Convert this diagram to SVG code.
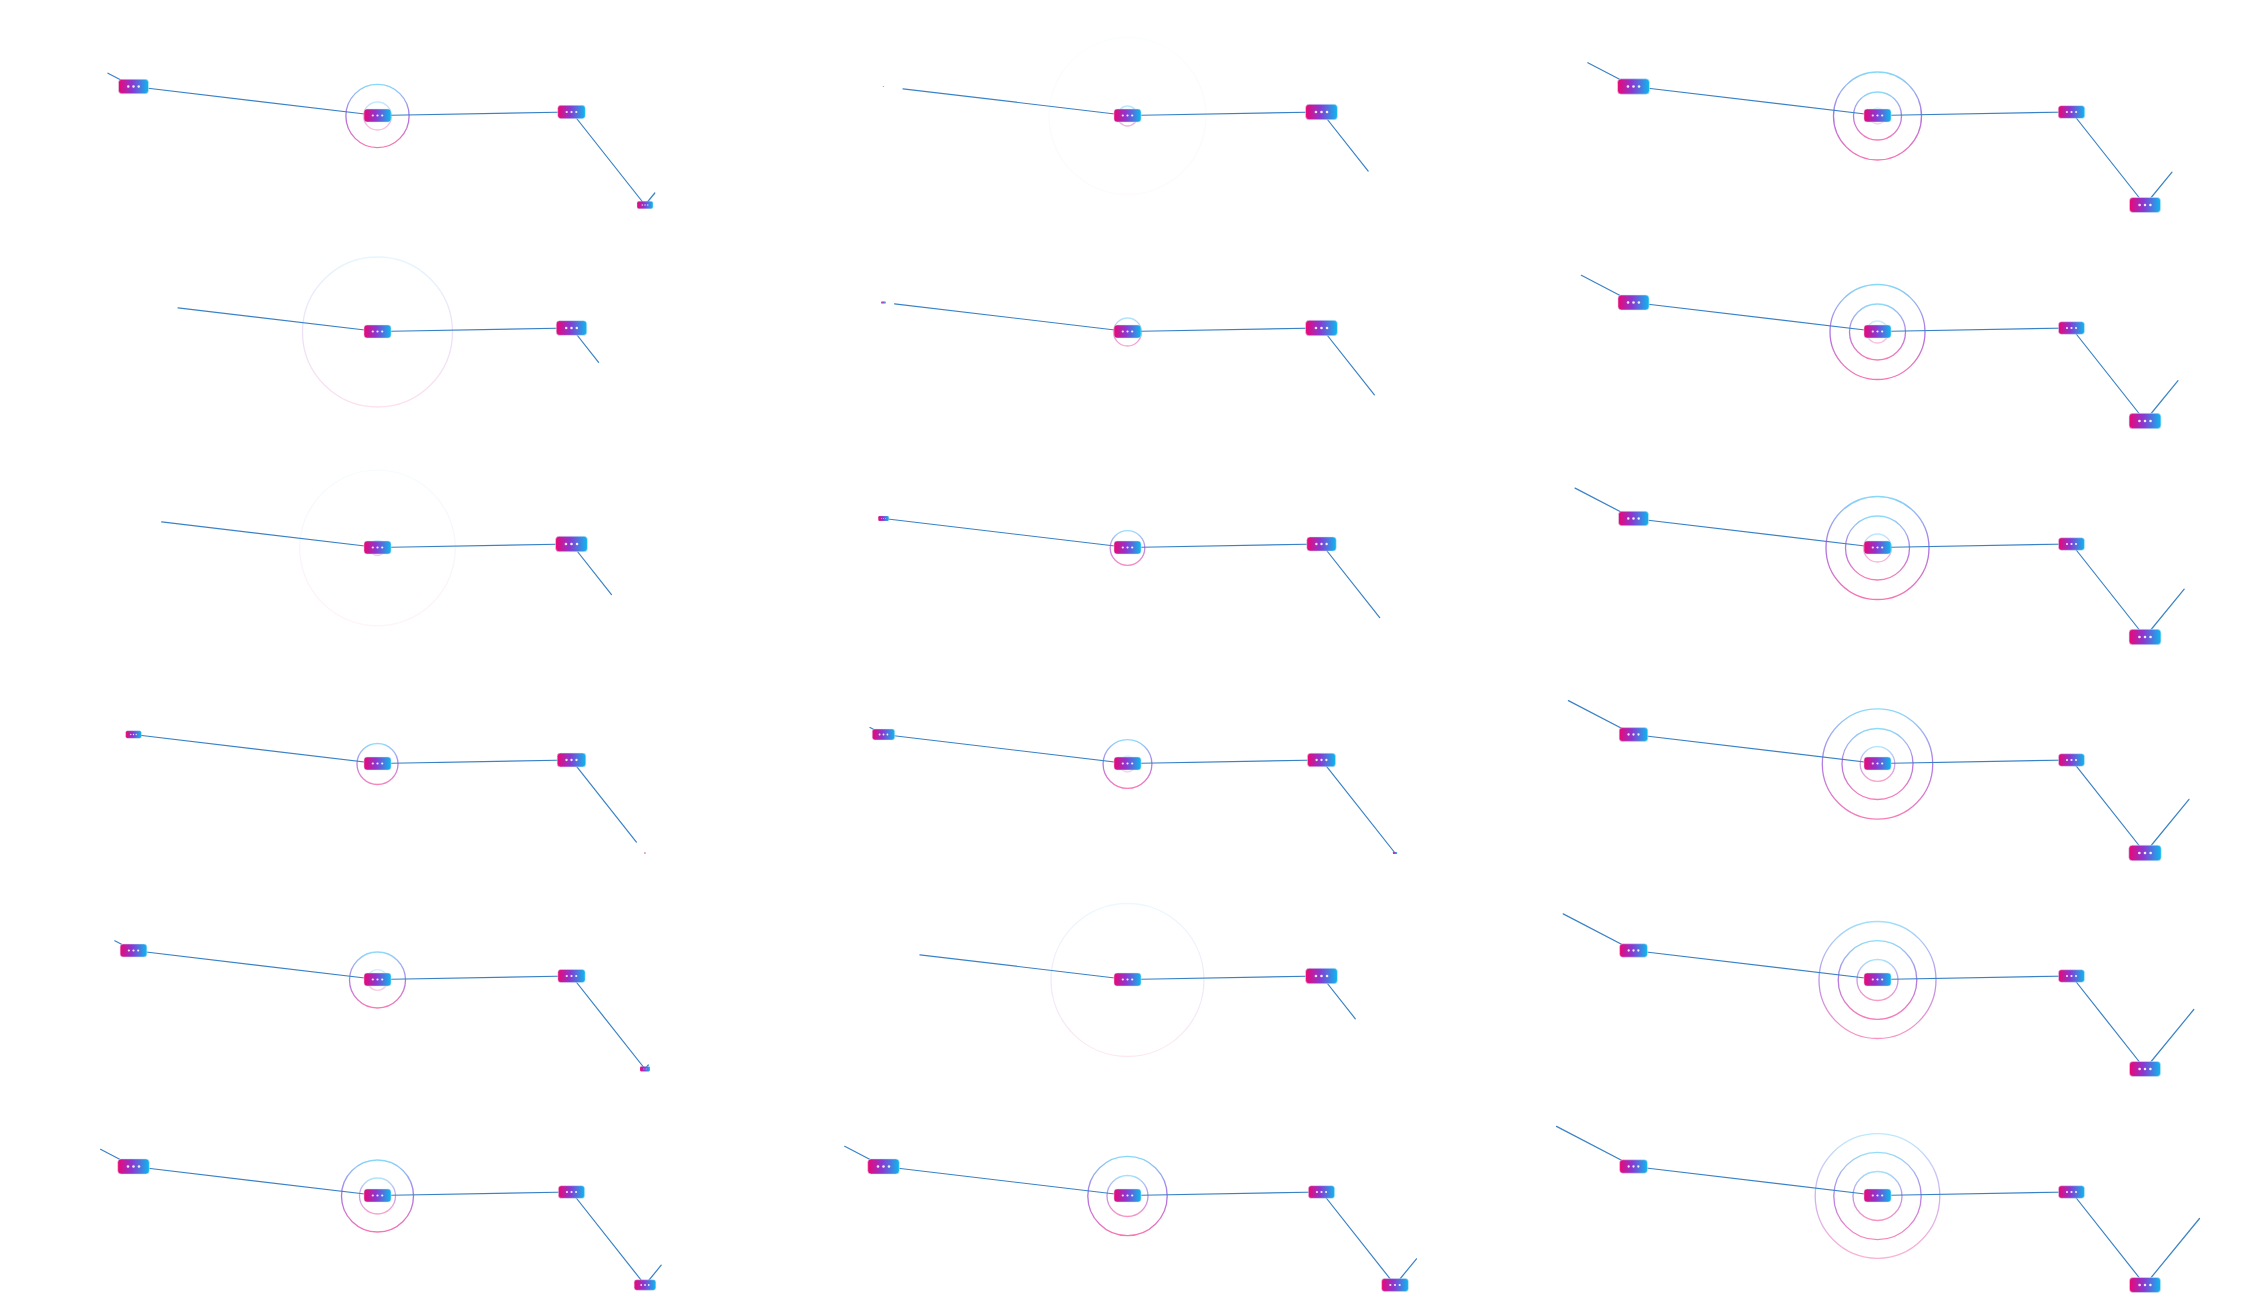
<svg xmlns="http://www.w3.org/2000/svg" xmlns:xlink="http://www.w3.org/1999/xlink" width="2250" height="1296" viewBox="0 0 2250 1296">
<style>
.bg{fill:#ffffff}
.link{stroke:#3a82c6;stroke-width:1.2;fill:none;stroke-linecap:round}
.ring{fill:none;stroke:url(#ringGrad);stroke-width:1.3}
.nrect{fill:url(#nodeGrad);stroke:#cdeafb;stroke-width:0.8;stroke-opacity:0.6}
.dot{fill:#ffffff;fill-opacity:0.9}
</style>
<defs>
<linearGradient id="nodeGrad" x1="0" y1="0" x2="1" y2="0">
<stop offset="0" stop-color="#ee0574"/>
<stop offset="0.45" stop-color="#8a38d0"/>
<stop offset="1" stop-color="#0ab9ee"/>
</linearGradient>
<linearGradient id="ringGrad" x1="0" y1="0" x2="0" y2="1">
<stop offset="0" stop-color="#7ad4f8"/>
<stop offset="0.5" stop-color="#a463e0"/>
<stop offset="1" stop-color="#f766aa"/>
</linearGradient>
<g id="nodeShape">
<rect class="nrect" x="-13.5" y="-6.5" width="27" height="13" rx="3"/>
<circle class="dot" cx="-4.7" cy="0" r="1.1"/>
<circle class="dot" cx="0" cy="0" r="1.1"/>
<circle class="dot" cx="4.7" cy="0" r="1.1"/>
</g>
</defs>
<rect class="bg" x="0" y="0" width="2250" height="1296"/>

<!-- Column 0 -->
<g id="frame-r0c0" transform="translate(0,0)">
<g id="rings-r0c0"><circle class="ring" cx="377.5" cy="116" r="31.6" opacity="0.9"/><circle class="ring" cx="377.5" cy="116" r="14" opacity="0.45"/></g>
<g id="connectors-r0c0">
<line class="link" x1="133.5" y1="86.5" x2="107.9" y2="73.2"/>
<line class="link" x1="133.5" y1="86.5" x2="377.5" y2="115.5"/>
<line class="link" x1="377.5" y1="115.5" x2="571.5" y2="112"/>
<line class="link" x1="571.5" y1="112" x2="645" y2="205"/>
<line class="link" x1="645" y1="205" x2="654.8" y2="193"/>
</g>
<g id="r0c0-nodeA" transform="translate(133.5,86.5) scale(1.11)"><use xlink:href="#nodeShape"/></g>
<g id="r0c0-nodeC" transform="translate(377.5,115.5)"><use xlink:href="#nodeShape"/></g>
<g id="r0c0-nodeB" transform="translate(571.5,112) scale(1.02)"><use xlink:href="#nodeShape"/></g>
<g id="r0c0-nodeD" transform="translate(645,205) scale(0.59)"><use xlink:href="#nodeShape"/></g>
</g>

<g id="frame-r1c0" transform="translate(0,216)">
<g id="rings-r1c0"><circle class="ring" cx="377.5" cy="116" r="75" opacity="0.2"/></g>
<g id="connectors-r1c0">
<line class="link" x1="178" y1="91.8" x2="377.5" y2="115.5"/>
<line class="link" x1="377.5" y1="115.5" x2="571.5" y2="112"/>
<line class="link" x1="571.5" y1="112" x2="598.6" y2="146.3"/>
</g>
<g id="r1c0-nodeC" transform="translate(377.5,115.5)"><use xlink:href="#nodeShape"/></g>
<g id="r1c0-nodeB" transform="translate(571.5,112) scale(1.13)"><use xlink:href="#nodeShape"/></g>
</g>

<g id="frame-r2c0" transform="translate(0,432)">
<g id="rings-r2c0"><circle class="ring" cx="377.5" cy="116" r="77.8" opacity="0.07"/><circle class="ring" cx="377.5" cy="116" r="7.5" opacity="0.4"/></g>
<g id="connectors-r2c0">
<line class="link" x1="161.7" y1="89.9" x2="377.5" y2="115.5"/>
<line class="link" x1="377.5" y1="115.5" x2="571.5" y2="112"/>
<line class="link" x1="571.5" y1="112" x2="611.5" y2="162.6"/>
</g>
<g id="r2c0-nodeC" transform="translate(377.5,115.5)"><use xlink:href="#nodeShape"/></g>
<g id="r2c0-nodeB" transform="translate(571.5,112) scale(1.18)"><use xlink:href="#nodeShape"/></g>
</g>

<g id="frame-r3c0" transform="translate(0,648)">
<g id="rings-r3c0"><circle class="ring" cx="377.5" cy="116" r="20.5" opacity="0.8"/></g>
<g id="connectors-r3c0">
<line class="link" x1="133.5" y1="86.5" x2="377.5" y2="115.5"/>
<line class="link" x1="377.5" y1="115.5" x2="571.5" y2="112"/>
<line class="link" x1="571.5" y1="112" x2="636.4" y2="194.1"/>
</g>
<g id="r3c0-nodeA" transform="translate(133.5,86.5) scale(0.58)"><use xlink:href="#nodeShape"/></g>
<g id="r3c0-nodeC" transform="translate(377.5,115.5)"><use xlink:href="#nodeShape"/></g>
<g id="r3c0-nodeB" transform="translate(571.5,112) scale(1.06)"><use xlink:href="#nodeShape"/></g>
<g id="r3c0-nodeD" transform="translate(645,205) scale(0.06)"><use xlink:href="#nodeShape"/></g>
</g>

<g id="frame-r4c0" transform="translate(0,864)">
<g id="rings-r4c0"><circle class="ring" cx="377.5" cy="116" r="28" opacity="0.85"/><circle class="ring" cx="377.5" cy="116" r="10.3" opacity="0.35"/></g>
<g id="connectors-r4c0">
<line class="link" x1="133.5" y1="86.5" x2="114.8" y2="76.8"/>
<line class="link" x1="133.5" y1="86.5" x2="377.5" y2="115.5"/>
<line class="link" x1="377.5" y1="115.5" x2="571.5" y2="112"/>
<line class="link" x1="571.5" y1="112" x2="645" y2="205"/>
<line class="link" x1="645" y1="205" x2="648.3" y2="201"/>
</g>
<g id="r4c0-nodeA" transform="translate(133.5,86.5) scale(0.99)"><use xlink:href="#nodeShape"/></g>
<g id="r4c0-nodeC" transform="translate(377.5,115.5)"><use xlink:href="#nodeShape"/></g>
<g id="r4c0-nodeB" transform="translate(571.5,112) scale(1.01)"><use xlink:href="#nodeShape"/></g>
<g id="r4c0-nodeD" transform="translate(645,205) scale(0.37)"><use xlink:href="#nodeShape"/></g>
</g>

<g id="frame-r5c0" transform="translate(0,1080)">
<g id="rings-r5c0"><circle class="ring" cx="377.5" cy="116" r="36" opacity="0.9"/><circle class="ring" cx="377.5" cy="116" r="18" opacity="0.6"/></g>
<g id="connectors-r5c0">
<line class="link" x1="133.5" y1="86.5" x2="100.5" y2="69.3"/>
<line class="link" x1="133.5" y1="86.5" x2="377.5" y2="115.5"/>
<line class="link" x1="377.5" y1="115.5" x2="571.5" y2="112"/>
<line class="link" x1="571.5" y1="112" x2="645" y2="205"/>
<line class="link" x1="645" y1="205" x2="661.2" y2="185.2"/>
</g>
<g id="r5c0-nodeA" transform="translate(133.5,86.5) scale(1.17)"><use xlink:href="#nodeShape"/></g>
<g id="r5c0-nodeC" transform="translate(377.5,115.5)"><use xlink:href="#nodeShape"/></g>
<g id="r5c0-nodeB" transform="translate(571.5,112) scale(0.97)"><use xlink:href="#nodeShape"/></g>
<g id="r5c0-nodeD" transform="translate(645,205) scale(0.8)"><use xlink:href="#nodeShape"/></g>
</g>

<!-- Column 1 -->
<g id="frame-r0c1" transform="translate(750,0)">
<g id="rings-r0c1"><circle class="ring" cx="377.5" cy="116" r="78.5" opacity="0.035"/><circle class="ring" cx="377.5" cy="116" r="10" opacity="0.5"/></g>
<g id="connectors-r0c1">
<line class="link" x1="153" y1="88.8" x2="377.5" y2="115.5"/>
<line class="link" x1="377.5" y1="115.5" x2="571.5" y2="112"/>
<line class="link" x1="571.5" y1="112" x2="618.2" y2="171.1"/>
</g>
<g id="r0c1-nodeA" transform="translate(133.5,86.5) scale(0.05)"><use xlink:href="#nodeShape"/></g>
<g id="r0c1-nodeC" transform="translate(377.5,115.5)"><use xlink:href="#nodeShape"/></g>
<g id="r0c1-nodeB" transform="translate(571.5,112) scale(1.18)"><use xlink:href="#nodeShape"/></g>
</g>

<g id="frame-r1c1" transform="translate(750,216)">
<g id="rings-r1c1"><circle class="ring" cx="377.5" cy="116" r="14" opacity="0.6"/></g>
<g id="connectors-r1c1">
<line class="link" x1="144.5" y1="87.8" x2="377.5" y2="115.5"/>
<line class="link" x1="377.5" y1="115.5" x2="571.5" y2="112"/>
<line class="link" x1="571.5" y1="112" x2="624.4" y2="178.9"/>
</g>
<g id="r1c1-nodeA" transform="translate(133.5,86.5) scale(0.17)"><use xlink:href="#nodeShape"/></g>
<g id="r1c1-nodeC" transform="translate(377.5,115.5)"><use xlink:href="#nodeShape"/></g>
<g id="r1c1-nodeB" transform="translate(571.5,112) scale(1.18)"><use xlink:href="#nodeShape"/></g>
</g>

<g id="frame-r2c1" transform="translate(750,432)">
<g id="rings-r2c1"><circle class="ring" cx="377.5" cy="116" r="17.3" opacity="0.75"/></g>
<g id="connectors-r2c1">
<line class="link" x1="133.5" y1="86.5" x2="377.5" y2="115.5"/>
<line class="link" x1="377.5" y1="115.5" x2="571.5" y2="112"/>
<line class="link" x1="571.5" y1="112" x2="629.7" y2="185.6"/>
</g>
<g id="r2c1-nodeA" transform="translate(133.5,86.5) scale(0.39)"><use xlink:href="#nodeShape"/></g>
<g id="r2c1-nodeC" transform="translate(377.5,115.5)"><use xlink:href="#nodeShape"/></g>
<g id="r2c1-nodeB" transform="translate(571.5,112) scale(1.09)"><use xlink:href="#nodeShape"/></g>
</g>

<g id="frame-r3c1" transform="translate(750,648)">
<g id="rings-r3c1"><circle class="ring" cx="377.5" cy="116" r="24.4" opacity="0.85"/><circle class="ring" cx="377.5" cy="116" r="8" opacity="0.3"/></g>
<g id="connectors-r3c1">
<line class="link" x1="133.5" y1="86.5" x2="120" y2="79.5"/>
<line class="link" x1="133.5" y1="86.5" x2="377.5" y2="115.5"/>
<line class="link" x1="377.5" y1="115.5" x2="571.5" y2="112"/>
<line class="link" x1="571.5" y1="112" x2="645" y2="205"/>
</g>
<g id="r3c1-nodeA" transform="translate(133.5,86.5) scale(0.83)"><use xlink:href="#nodeShape"/></g>
<g id="r3c1-nodeC" transform="translate(377.5,115.5)"><use xlink:href="#nodeShape"/></g>
<g id="r3c1-nodeB" transform="translate(571.5,112) scale(1.04)"><use xlink:href="#nodeShape"/></g>
<g id="r3c1-nodeD" transform="translate(645,205) scale(0.15)"><use xlink:href="#nodeShape"/></g>
</g>

<g id="frame-r4c1" transform="translate(750,864)">
<g id="rings-r4c1"><circle class="ring" cx="377.5" cy="116" r="76.5" opacity="0.15"/></g>
<g id="connectors-r4c1">
<line class="link" x1="169.9" y1="90.8" x2="377.5" y2="115.5"/>
<line class="link" x1="377.5" y1="115.5" x2="571.5" y2="112"/>
<line class="link" x1="571.5" y1="112" x2="605.3" y2="154.8"/>
</g>
<g id="r4c1-nodeC" transform="translate(377.5,115.5)"><use xlink:href="#nodeShape"/></g>
<g id="r4c1-nodeB" transform="translate(571.5,112) scale(1.18)"><use xlink:href="#nodeShape"/></g>
</g>

<g id="frame-r5c1" transform="translate(750,1080)">
<g id="rings-r5c1"><circle class="ring" cx="377.5" cy="116" r="39.7" opacity="0.9"/><circle class="ring" cx="377.5" cy="116" r="20.5" opacity="0.7"/></g>
<g id="connectors-r5c1">
<line class="link" x1="133.5" y1="86.5" x2="94.7" y2="66.3"/>
<line class="link" x1="133.5" y1="86.5" x2="377.5" y2="115.5"/>
<line class="link" x1="377.5" y1="115.5" x2="571.5" y2="112"/>
<line class="link" x1="571.5" y1="112" x2="645" y2="205"/>
<line class="link" x1="645" y1="205" x2="666.5" y2="178.8"/>
</g>
<g id="r5c1-nodeA" transform="translate(133.5,86.5) scale(1.17)"><use xlink:href="#nodeShape"/></g>
<g id="r5c1-nodeC" transform="translate(377.5,115.5)"><use xlink:href="#nodeShape"/></g>
<g id="r5c1-nodeB" transform="translate(571.5,112) scale(0.97)"><use xlink:href="#nodeShape"/></g>
<g id="r5c1-nodeD" transform="translate(645,205) scale(0.99)"><use xlink:href="#nodeShape"/></g>
</g>

<!-- Column 2 -->
<g id="frame-r0c2" transform="translate(1500,0)">
<g id="rings-r0c2"><circle class="ring" cx="377.5" cy="116" r="44" opacity="0.9"/><circle class="ring" cx="377.5" cy="116" r="24" opacity="0.85"/><circle class="ring" cx="377.5" cy="116" r="8" opacity="0.3"/></g>
<g id="connectors-r0c2">
<line class="link" x1="133.5" y1="86.5" x2="87.8" y2="62.7"/>
<line class="link" x1="133.5" y1="86.5" x2="377.5" y2="115.5"/>
<line class="link" x1="377.5" y1="115.5" x2="571.5" y2="112"/>
<line class="link" x1="571.5" y1="112" x2="645" y2="205"/>
<line class="link" x1="645" y1="205" x2="672" y2="172.1"/>
</g>
<g id="r0c2-nodeA" transform="translate(133.5,86.5) scale(1.18)"><use xlink:href="#nodeShape"/></g>
<g id="r0c2-nodeC" transform="translate(377.5,115.5)"><use xlink:href="#nodeShape"/></g>
<g id="r0c2-nodeB" transform="translate(571.5,112) scale(0.98)"><use xlink:href="#nodeShape"/></g>
<g id="r0c2-nodeD" transform="translate(645,205) scale(1.15)"><use xlink:href="#nodeShape"/></g>
</g>

<g id="frame-r1c2" transform="translate(1500,216)">
<g id="rings-r1c2"><circle class="ring" cx="377.5" cy="116" r="47.5" opacity="0.9"/><circle class="ring" cx="377.5" cy="116" r="28" opacity="0.85"/><circle class="ring" cx="377.5" cy="116" r="11" opacity="0.4"/></g>
<g id="connectors-r1c2">
<line class="link" x1="133.5" y1="86.5" x2="81.3" y2="59.3"/>
<line class="link" x1="133.5" y1="86.5" x2="377.5" y2="115.5"/>
<line class="link" x1="377.5" y1="115.5" x2="571.5" y2="112"/>
<line class="link" x1="571.5" y1="112" x2="645" y2="205"/>
<line class="link" x1="645" y1="205" x2="678" y2="164.7"/>
</g>
<g id="r1c2-nodeA" transform="translate(133.5,86.5) scale(1.15)"><use xlink:href="#nodeShape"/></g>
<g id="r1c2-nodeC" transform="translate(377.5,115.5)"><use xlink:href="#nodeShape"/></g>
<g id="r1c2-nodeB" transform="translate(571.5,112) scale(0.96)"><use xlink:href="#nodeShape"/></g>
<g id="r1c2-nodeD" transform="translate(645,205) scale(1.18)"><use xlink:href="#nodeShape"/></g>
</g>

<g id="frame-r2c2" transform="translate(1500,432)">
<g id="rings-r2c2"><circle class="ring" cx="377.5" cy="116" r="51.5" opacity="0.9"/><circle class="ring" cx="377.5" cy="116" r="32" opacity="0.85"/><circle class="ring" cx="377.5" cy="116" r="14" opacity="0.5"/></g>
<g id="connectors-r2c2">
<line class="link" x1="133.5" y1="86.5" x2="75.1" y2="56.1"/>
<line class="link" x1="133.5" y1="86.5" x2="377.5" y2="115.5"/>
<line class="link" x1="377.5" y1="115.5" x2="571.5" y2="112"/>
<line class="link" x1="571.5" y1="112" x2="645" y2="205"/>
<line class="link" x1="645" y1="205" x2="684.2" y2="157.2"/>
</g>
<g id="r2c2-nodeA" transform="translate(133.5,86.5) scale(1.11)"><use xlink:href="#nodeShape"/></g>
<g id="r2c2-nodeC" transform="translate(377.5,115.5)"><use xlink:href="#nodeShape"/></g>
<g id="r2c2-nodeB" transform="translate(571.5,112) scale(0.96)"><use xlink:href="#nodeShape"/></g>
<g id="r2c2-nodeD" transform="translate(645,205) scale(1.18)"><use xlink:href="#nodeShape"/></g>
</g>

<g id="frame-r3c2" transform="translate(1500,648)">
<g id="rings-r3c2"><circle class="ring" cx="377.5" cy="116" r="55.2" opacity="0.85"/><circle class="ring" cx="377.5" cy="116" r="35.5" opacity="0.85"/><circle class="ring" cx="377.5" cy="116" r="17.3" opacity="0.6"/></g>
<g id="connectors-r3c2">
<line class="link" x1="133.5" y1="86.5" x2="68.4" y2="52.6"/>
<line class="link" x1="133.5" y1="86.5" x2="377.5" y2="115.5"/>
<line class="link" x1="377.5" y1="115.5" x2="571.5" y2="112"/>
<line class="link" x1="571.5" y1="112" x2="645" y2="205"/>
<line class="link" x1="645" y1="205" x2="689" y2="151.3"/>
</g>
<g id="r3c2-nodeA" transform="translate(133.5,86.5) scale(1.06)"><use xlink:href="#nodeShape"/></g>
<g id="r3c2-nodeC" transform="translate(377.5,115.5)"><use xlink:href="#nodeShape"/></g>
<g id="r3c2-nodeB" transform="translate(571.5,112) scale(0.96)"><use xlink:href="#nodeShape"/></g>
<g id="r3c2-nodeD" transform="translate(645,205) scale(1.2)"><use xlink:href="#nodeShape"/></g>
</g>

<g id="frame-r4c2" transform="translate(1500,864)">
<g id="rings-r4c2"><circle class="ring" cx="377.5" cy="116" r="58.5" opacity="0.7"/><circle class="ring" cx="377.5" cy="116" r="39.3" opacity="0.85"/><circle class="ring" cx="377.5" cy="116" r="20.5" opacity="0.65"/></g>
<g id="connectors-r4c2">
<line class="link" x1="133.5" y1="86.5" x2="63.2" y2="49.9"/>
<line class="link" x1="133.5" y1="86.5" x2="377.5" y2="115.5"/>
<line class="link" x1="377.5" y1="115.5" x2="571.5" y2="112"/>
<line class="link" x1="571.5" y1="112" x2="645" y2="205"/>
<line class="link" x1="645" y1="205" x2="693.8" y2="145.5"/>
</g>
<g id="r4c2-nodeA" transform="translate(133.5,86.5) scale(1.03)"><use xlink:href="#nodeShape"/></g>
<g id="r4c2-nodeC" transform="translate(377.5,115.5)"><use xlink:href="#nodeShape"/></g>
<g id="r4c2-nodeB" transform="translate(571.5,112) scale(0.96)"><use xlink:href="#nodeShape"/></g>
<g id="r4c2-nodeD" transform="translate(645,205) scale(1.15)"><use xlink:href="#nodeShape"/></g>
</g>

<g id="frame-r5c2" transform="translate(1500,1080)">
<g id="rings-r5c2"><circle class="ring" cx="377.5" cy="116" r="62.3" opacity="0.5"/><circle class="ring" cx="377.5" cy="116" r="43.7" opacity="0.8"/><circle class="ring" cx="377.5" cy="116" r="24.5" opacity="0.7"/></g>
<g id="connectors-r5c2">
<line class="link" x1="133.5" y1="86.5" x2="56.5" y2="46.4"/>
<line class="link" x1="133.5" y1="86.5" x2="377.5" y2="115.5"/>
<line class="link" x1="377.5" y1="115.5" x2="571.5" y2="112"/>
<line class="link" x1="571.5" y1="112" x2="645" y2="205"/>
<line class="link" x1="645" y1="205" x2="699.5" y2="138.5"/>
</g>
<g id="r5c2-nodeA" transform="translate(133.5,86.5) scale(1.03)"><use xlink:href="#nodeShape"/></g>
<g id="r5c2-nodeC" transform="translate(377.5,115.5)"><use xlink:href="#nodeShape"/></g>
<g id="r5c2-nodeB" transform="translate(571.5,112) scale(0.96)"><use xlink:href="#nodeShape"/></g>
<g id="r5c2-nodeD" transform="translate(645,205) scale(1.15)"><use xlink:href="#nodeShape"/></g>
</g>
</svg>
